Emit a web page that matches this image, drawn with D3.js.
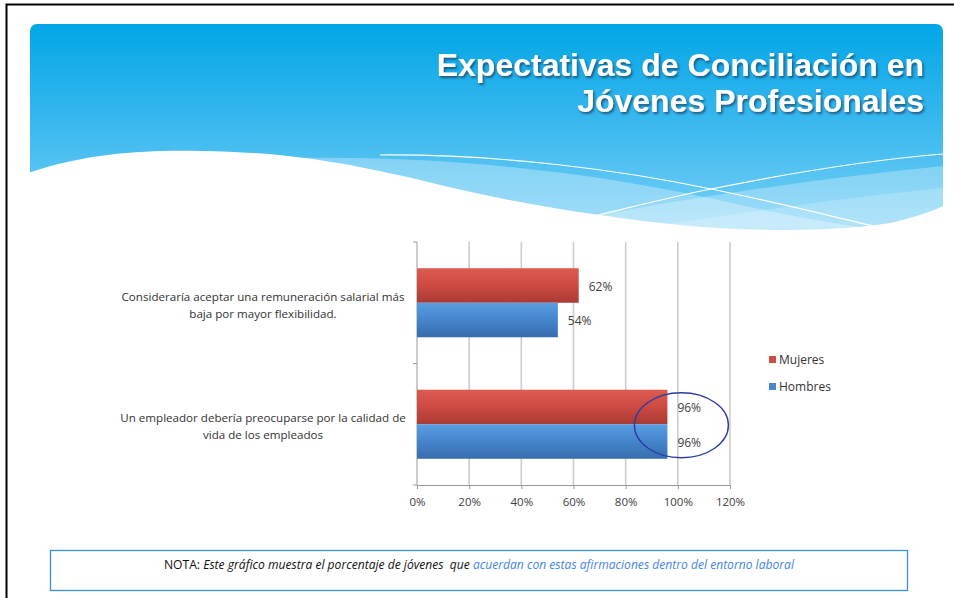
<!DOCTYPE html>
<html>
<head>
    <meta charset="utf-8">
    <title>Expectativas de Conciliación</title>
    <script src="https://cdn.jsdelivr.net/npm/d3@7"></script>
    <style>
        body { margin: 0; background: #ffffff; }
        svg { display: block; }
    </style>
</head>
<body>
    <svg width="954" height="598" id="mainsvg"></svg>
    <script>
        // data
        const categories = [
            'Consideraría aceptar una remuneración salarial más|baja por mayor flexibilidad.',
            'Un empleador debería preocuparse por la calidad de|vida de los empleados'
        ];
        const seriesNames = ['Mujeres', 'Hombres'];
        const mujeres = [0.62, 0.96];
        const hombres = [0.54, 0.96];
        const xTicks = [0, 0.2, 0.4, 0.6, 0.8, 1.0, 1.2];
        const titleLines = ['Expectativas de Conciliación en', 'Jóvenes Profesionales'];

        const svg = d3.select('#mainsvg');
        const defs = svg.append('defs');

        // page frame (left + top black edge)
        svg.append('rect').attr('x', 6.5).attr('y', 4.5).attr('width', 960).attr('height', 620)
            .attr('fill', 'none').attr('stroke', '#000').attr('stroke-width', 2);

        // ---------- header ----------
        const hg = defs.append('linearGradient').attr('id', 'hdr').attr('x1', 0).attr('y1', 0).attr('x2', 0).attr('y2', 1);
        hg.append('stop').attr('offset', '0%').attr('stop-color', '#02a6e6');
        hg.append('stop').attr('offset', '50%').attr('stop-color', '#3cb9ef');
        hg.append('stop').attr('offset', '100%').attr('stop-color', '#7ad0f6');

        defs.append('clipPath').attr('id', 'hdrclip')
            .append('rect').attr('x', 30).attr('y', 24).attr('width', 913).attr('height', 208).attr('rx', 7);

        const header = svg.append('g').attr('clip-path', 'url(#hdrclip)');
        header.append('rect').attr('x', 30).attr('y', 24).attr('width', 913).attr('height', 208).attr('fill', 'url(#hdr)');

        // translucent bands
        header.append('path')
            .attr('d', 'M300,158 C450,156 600,172 740,205 C800,218 850,226 900,232 L943,260 L300,260 Z')
            .attr('fill', '#ffffff').attr('opacity', 0.3);
        header.append('path')
            .attr('d', 'M560,222 C700,196 820,178 943,166 L943,260 L560,260 Z')
            .attr('fill', '#ffffff').attr('opacity', 0.28);
        header.append('path')
            .attr('d', 'M640,228 C760,210 860,196 943,188 L943,260 L640,260 Z')
            .attr('fill', '#ffffff').attr('opacity', 0.2);

        // thin white lines
        header.append('path')
            .attr('d', 'M380,155 C500,154 620,170 711,189 C780,203 830,216 878,227')
            .attr('fill', 'none').attr('stroke', '#ffffff').attr('stroke-width', 1.2);
        header.append('path')
            .attr('d', 'M598,215 C640,205 680,195 711,189 C790,173 870,160 943,154')
            .attr('fill', 'none').attr('stroke', '#ffffff').attr('stroke-width', 1.2);

        // white wave (drawn outside the clip so it also hides the header's bottom edge)
        svg.append('path')
            .attr('d', 'M28,173 C90,152 150,150 200,151 C290,152 350,164 420,180 C480,195 540,207 600,215 C660,224 720,230 780,230 C830,230 870,227 895,222 C915,217 930,212 946,205 L946,240 L28,240 Z')
            .attr('fill', '#ffffff');

        // title
        const shadow = defs.append('filter').attr('id', 'tshadow').attr('x', '-5%').attr('y', '-20%').attr('width', '110%').attr('height', '150%');
        shadow.append('feDropShadow').attr('dx', 1.5).attr('dy', 2).attr('stdDeviation', 1.3)
            .attr('flood-color', '#1a3d5a').attr('flood-opacity', 0.75);

        svg.append('g').selectAll('text').data(titleLines).join('text')
            .attr('x', 924)
            .attr('y', (d, i) => 76 + i * 36)
            .attr('text-anchor', 'end')
            .attr('font-family', '"Liberation Sans", Arial, sans-serif')
            .attr('font-weight', 'bold')
            .attr('font-size', 32)
            .attr('fill', '#ffffff')
            .attr('filter', 'url(#tshadow)')
            .text(d => d);

        // ---------- chart ----------
        const plot = { left: 417, right: 730, top: 242, bottom: 485 };
        const xScale = d3.scaleLinear().domain([0, 1.2]).range([plot.left, plot.right]);
        const yScale = d3.scaleBand().domain(categories).range([plot.top, plot.bottom]);
        const yInner = d3.scaleBand().domain(seriesNames).range([0, yScale.bandwidth()]).paddingOuter(0.76);

        const colors = {
            'Mujeres': ['#dd5a51', '#cf4c44', '#a93a33'],
            'Hombres': ['#5a9ee0', '#4787cf', '#376dac']
        };
        seriesNames.forEach((s, i) => {
            const g = defs.append('linearGradient').attr('id', 'bar' + i).attr('x1', 0).attr('y1', 0).attr('x2', 0).attr('y2', 1);
            g.append('stop').attr('offset', '0%').attr('stop-color', colors[s][0]);
            g.append('stop').attr('offset', '45%').attr('stop-color', colors[s][1]);
            g.append('stop').attr('offset', '100%').attr('stop-color', colors[s][2]);
        });

        const font = '"Open Sans", "Noto Sans", sans-serif';
        const chart = svg.append('g');

        // gridlines
        chart.append('g').selectAll('line').data(xTicks.slice(1)).join('line')
            .attr('x1', d => xScale(d)).attr('x2', d => xScale(d))
            .attr('y1', plot.top).attr('y2', plot.bottom)
            .attr('stroke', '#cccccc').attr('stroke-width', 1.6);

        // x axis
        const xAxis = d3.axisBottom(xScale).tickValues(xTicks).tickFormat(d3.format('.0%')).tickSize(4).tickPadding(9);
        const xg = chart.append('g').attr('transform', `translate(0,${plot.bottom})`).call(xAxis);
        xg.select('.domain').attr('stroke', '#9a9a9a');
        xg.selectAll('.tick line').attr('stroke', '#9a9a9a');
        xg.selectAll('.tick text').attr('font-family', font).attr('font-size', 11.5).attr('fill', '#404040');

        // y axis (category separators)
        const yAxisLine = chart.append('g');
        yAxisLine.append('line').attr('x1', plot.left).attr('x2', plot.left).attr('y1', plot.top).attr('y2', plot.bottom)
            .attr('stroke', '#9a9a9a');
        yAxisLine.selectAll('.sep').data([plot.top, ...categories.map(c => yScale(c) + yScale.bandwidth())]).join('line')
            .attr('class', 'sep')
            .attr('x1', plot.left - 4).attr('x2', plot.left).attr('y1', d => d).attr('y2', d => d)
            .attr('stroke', '#9a9a9a');

        // bars
        const series = [mujeres, hombres];
        series.forEach((vals, si) => {
            const name = seriesNames[si];
            chart.append('g').selectAll('rect').data(vals).join('rect')
                .attr('x', xScale(0))
                .attr('y', (d, i) => yScale(categories[i]) + yInner(name))
                .attr('width', d => xScale(d) - xScale(0))
                .attr('height', yInner.bandwidth())
                .attr('fill', `url(#bar${si})`);
            chart.append('g').selectAll('text').data(vals).join('text')
                .attr('x', d => xScale(d) + 10)
                .attr('y', (d, i) => yScale(categories[i]) + yInner(name) + yInner.bandwidth() / 2 + 1)
                .attr('dy', '0.35em')
                .attr('font-family', font).attr('font-size', 12).attr('fill', '#404040')
                .text(d => d3.format('.0%')(d));
        });

        // category labels
        const catG = chart.append('g');
        categories.forEach(c => {
            const lines = c.split('|');
            const cy = yScale(c) + yScale.bandwidth() / 2;
            catG.append('text')
                .attr('x', 263)
                .attr('y', cy - 2)
                .attr('text-anchor', 'middle')
                .attr('font-family', font).attr('font-size', 11.6).attr('fill', '#333333')
                .selectAll('tspan').data(lines).join('tspan')
                .attr('x', 263).attr('dy', (d, i) => i === 0 ? 0 : 17)
                .text(d => d);
        });

        // highlight ellipse
        chart.append('ellipse')
            .attr('cx', (xScale(mujeres[1]) + xScale(hombres[1])) / 2 + 14)
            .attr('cy', yScale(categories[1]) + yScale.bandwidth() / 2 + 1)
            .attr('rx', 47).attr('ry', 32.5)
            .attr('fill', 'none').attr('stroke', '#2b3ca6').attr('stroke-width', 1.4);

        // legend
        const legend = chart.append('g').selectAll('g').data(seriesNames).join('g')
            .attr('transform', (d, i) => `translate(769,${356 + i * 27})`);
        legend.append('rect').attr('width', 7).attr('height', 7)
            .attr('fill', (d, i) => colors[d][1]);
        legend.append('text').attr('x', 10).attr('y', 4).attr('dy', '0.35em')
            .attr('font-family', font).attr('font-size', 12).attr('fill', '#333333')
            .text(d => d);

        // ---------- note box ----------
        svg.append('rect').attr('x', 50.5).attr('y', 550.5).attr('width', 857).attr('height', 40)
            .attr('fill', '#ffffff').attr('stroke', '#3b8fd4').attr('stroke-width', 1.3);
        const note = svg.append('text').attr('x', 479).attr('y', 569).attr('text-anchor', 'middle')
            .attr('font-family', font).attr('font-size', 12.1).attr('fill', '#111111')
            .attr('xml:space', 'preserve');
        note.append('tspan').text('NOTA: ');
        note.append('tspan').attr('font-style', 'italic').text('Este gráfico muestra el porcentaje de jóvenes  que ');
        note.append('tspan').attr('font-style', 'italic').attr('fill', '#3f87e6').text('acuerdan con estas afirmaciones dentro del entorno laboral');
    </script>
</body>
</html>
